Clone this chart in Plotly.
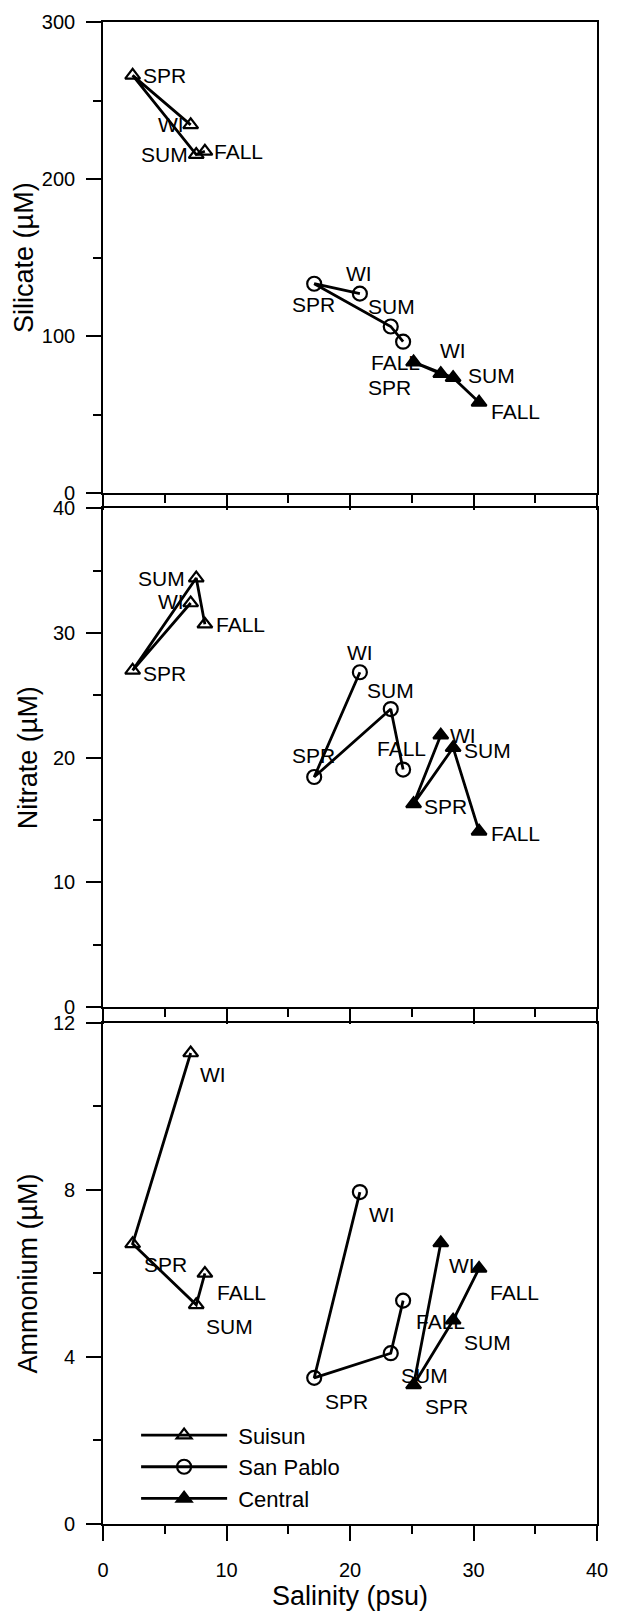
import plotly.graph_objects as go

# ---------------- data ----------------
SEASONS = ["WI", "SPR", "SUM", "FALL"]
SERIES = ["Suisun", "San Pablo", "Central"]

# salinity (psu), seasons in order WI, SPR, SUM, FALL
sal_suisun = [7.1, 2.4, 7.55, 8.25]
sal_sanpablo = [20.8, 17.1, 23.3, 24.3]
sal_central = [27.35, 25.15, 28.35, 30.45]

# silicate (uM)
si_suisun = [234.5, 266.0, 215.6, 217.7]
si_sanpablo = [127.1, 133.4, 106.2, 96.5]
si_central = [76.1, 83.5, 73.6, 57.9]

# nitrate (uM)
no3_suisun = [32.4, 27.0, 34.4, 30.7]
no3_sanpablo = [26.85, 18.45, 23.9, 19.05]
no3_central = [21.8, 16.3, 20.8, 14.1]

# ammonium (uM)
nh4_suisun = [11.28, 6.71, 5.25, 6.0]
nh4_sanpablo = [7.95, 3.5, 4.09, 5.35]
nh4_central = [6.73, 3.33, 4.88, 6.12]

# ---------------- styling ----------------
FONT = "Liberation Sans, Arial, Helvetica, sans-serif"
MARKERS = ["triangle-up-open", "circle-open", "triangle-up"]
MSIZE = [13, 14, 13]

# label offsets (px, dx right, dy down) per panel / series / season
OFF_SI = [
    [(-20, 0), (32, 0), (-32, 0), (34, 0)],
    [(-1, -20), (-1, 21), (1, -20), (-8, 21)],
    [(12, -23), (-24, 25), (38, -2), (36, 9)],
]
OFF_NO3 = [
    [(-20, -1), (32, 3), (-35, 0), (36, 0)],
    [(0, -20), (-1, -22), (0, -19), (-2, -21)],
    [(22, 0), (32, 3), (34, 3), (36, 2)],
]
OFF_NH4 = [
    [(22, 22), (33, 21), (33, 22), (37, 19)],
    [(22, 22), (32, 24), (34, 22), (37, 21)],
    [(21, 23), (33, 22), (34, 22), (35, 24)],
]

sal = [sal_suisun, sal_sanpablo, sal_central]
panels = [
    dict(vals=[si_suisun, si_sanpablo, si_central], off=OFF_SI, xa="x", ya="y",
         title="Silicate (µM)", rng=[0, 300], dt=100, mdt=50, dom=[0.6862, 1.0], so=0),
    dict(vals=[no3_suisun, no3_sanpablo, no3_central], off=OFF_NO3, xa="x2", ya="y2",
         title="Nitrate (µM)", rng=[0, 40], dt=10, mdt=5, dom=[0.3441, 0.6763], so=7),
    dict(vals=[nh4_suisun, nh4_sanpablo, nh4_central], off=OFF_NH4, xa="x3", ya="y3",
         title="Ammonium (µM)", rng=[0, 12], dt=4, mdt=2, dom=[0.0, 0.3336], so=7),
]

fig = go.Figure()
annotations = []
for pi, p in enumerate(panels):
    for si, name in enumerate(SERIES):
        fig.add_trace(go.Scatter(
            x=sal[si], y=p["vals"][si], mode="lines+markers", name="\u00a0" + name,
            xaxis=p["xa"], yaxis=p["ya"],
            legendgroup=name, showlegend=(pi == 2),
            line=dict(color="black", width=2.8),
            marker=dict(symbol=MARKERS[si], size=MSIZE[si], color="black",
                        line=dict(color="black", width=2.2)),
            hoverinfo="skip",
        ))
        for k, season in enumerate(SEASONS):
            dx, dy = p["off"][si][k]
            annotations.append(dict(
                x=sal[si][k], y=p["vals"][si][k], xref=p["xa"], yref=p["ya"],
                text=season, showarrow=False, xanchor="center", yanchor="middle",
                xshift=dx, yshift=-dy, font=dict(family=FONT, size=21, color="black"),
            ))

axis_common = dict(
    showline=True, linecolor="black", linewidth=1.6, mirror=True,
    ticks="outside", ticklen=15, tickwidth=1.6, tickcolor="black",
    showgrid=False, zeroline=False,
    tickfont=dict(family=FONT, size=20, color="black"),
)

layout = dict(
    width=619, height=1615,
    margin=dict(l=103, r=11, t=16, b=79),
    paper_bgcolor="white", plot_bgcolor="white",
    font=dict(family=FONT, color="black"),
    annotations=annotations,
    showlegend=True,
    legend=dict(x=0.067, y=0.073, xanchor="left", yanchor="top",
                bgcolor="rgba(0,0,0,0)", font=dict(family=FONT, size=22, color="black"),
                itemwidth=86, tracegroupgap=0),
)

for pi, p in enumerate(panels):
    xs = "xaxis" if pi == 0 else f"xaxis{pi + 1}"
    ys = "yaxis" if pi == 0 else f"yaxis{pi + 1}"
    xa = dict(axis_common, range=[0, 40], dtick=10, tick0=0, anchor=p["ya"],
              domain=[0, 1], showticklabels=(pi == 2), ticklabelstandoff=12,
              minor=dict(dtick=5, ticklen=8, tickwidth=1.6, tickcolor="black", ticks="outside"))
    if pi == 2:
        xa["title"] = dict(text="Salinity (psu)", font=dict(family=FONT, size=27, color="black"),
                           standoff=4)
    ya = dict(axis_common, range=p["rng"], dtick=p["dt"], tick0=0, anchor=p["xa"],
              domain=p["dom"], ticklabelstandoff=7,
              minor=dict(dtick=p["mdt"], ticklen=8, tickwidth=1.6, tickcolor="black", ticks="outside"),
              title=dict(text=p["title"], font=dict(family=FONT, size=27, color="black"),
                         standoff=p["so"]))
    layout[xs] = xa
    layout[ys] = ya

fig.update_layout(**layout)
fig.write_html("out.html", config={"displayModeBar": False},
               post_script="document.body.style.margin='0';document.body.style.padding='0';")
